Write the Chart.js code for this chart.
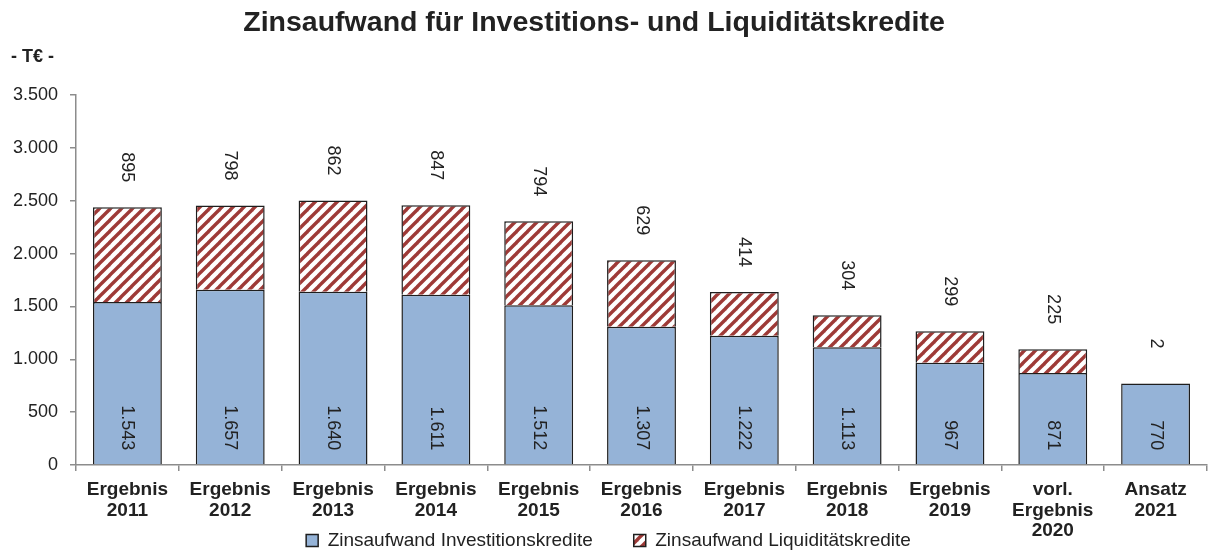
<!DOCTYPE html>
<html>
<head>
<meta charset="utf-8">
<script src="https://cdn.jsdelivr.net/npm/chart.js@4"></script>
<style>
html,body{margin:0;padding:0;background:#fff;}
#wrap{width:1209px;height:551px;}
</style>
</head>
<body>
<div id="wrap"><canvas id="c" width="1209" height="551"></canvas></div>
<script>
const categories = [
  ['Ergebnis','2011'],['Ergebnis','2012'],['Ergebnis','2013'],['Ergebnis','2014'],
  ['Ergebnis','2015'],['Ergebnis','2016'],['Ergebnis','2017'],['Ergebnis','2018'],
  ['Ergebnis','2019'],['vorl.','Ergebnis','2020'],['Ansatz','2021']
];
const investitionskredite = [1543,1657,1640,1611,1512,1307,1222,1113,967,871,770];
const liquiditaetskredite = [895,798,862,847,794,629,414,304,299,225,2];
const seriesNames = ['Zinsaufwand Investitionskredite','Zinsaufwand Liquiditätskredite'];
const yTicks = [0,500,1000,1500,2000,2500,3000,3500];
const titleText = 'Zinsaufwand für Investitions- und Liquiditätskredite';
const unitText = '- T€ -';

function fmt(v){ return String(v).replace(/\B(?=(\d{3})+(?!\d))/g,'.'); }

const FONT = '"Liberation Sans", Arial, sans-serif';
const TXT = '#222222';

// hatch pattern
const pc = document.createElement('canvas');
pc.width = 11; pc.height = 11;
const pctx = pc.getContext('2d');
pctx.fillStyle = '#ffffff'; pctx.fillRect(0,0,11,11);
pctx.strokeStyle = '#9e3a37'; pctx.lineWidth = 3.4;
for (const o of [-11,0,11]) { pctx.beginPath(); pctx.moveTo(o-1,12); pctx.lineTo(o+12,-1); pctx.stroke(); }
const hatch = pctx.createPattern(pc,'repeat');

const labelPlugin = {
  id: 'valueLabels',
  afterDatasetsDraw(chart){
    const ctx = chart.ctx;
    const m0 = chart.getDatasetMeta(0), m1 = chart.getDatasetMeta(1);
    ctx.save();
    ctx.fillStyle = TXT;
    ctx.font = '18px ' + FONT;
    ctx.textBaseline = 'middle';
    m0.data.forEach((bar,i)=>{
      ctx.save();
      ctx.translate(bar.x, bar.base - 14);
      ctx.rotate(Math.PI/2);
      ctx.textAlign = 'right';
      ctx.fillText(fmt(investitionskredite[i]),0,0);
      ctx.restore();
      const top = m1.data[i].y;
      ctx.save();
      ctx.translate(bar.x, top - 40);
      ctx.rotate(Math.PI/2);
      ctx.textAlign = 'center';
      ctx.fillText(fmt(liquiditaetskredite[i]),0,0);
      ctx.restore();
    });
    // title
    ctx.font = 'bold 28.5px ' + FONT;
    ctx.textAlign = 'center';
    ctx.fillText(titleText, 594, 23);
    // unit label
    ctx.font = 'bold 18px ' + FONT;
    ctx.textAlign = 'left';
    ctx.fillText(unitText, 11, 57);
    ctx.restore();
  }
};

new Chart(document.getElementById('c'), {
  type: 'bar',
  data: {
    labels: categories,
    datasets: [
      { label: seriesNames[0], data: investitionskredite, backgroundColor: '#95b3d7',
        borderColor: '#1e1e1e', borderWidth: 1.5 },
      { label: seriesNames[1], data: liquiditaetskredite, backgroundColor: hatch,
        borderColor: '#1e1e1e', borderWidth: 1.5 }
    ]
  },
  options: {
    responsive: false,
    animation: false,
    devicePixelRatio: 1,
    layout: { padding: { left: 10, right: 2, top: 95, bottom: -9 } },
    datasets: { bar: { barPercentage: 0.67, categoryPercentage: 1.0 } },
    scales: {
      x: {
        stacked: true,
        border: { display: true, color: '#8c8c8c', width: 1.5 },
        grid: { display: true, drawOnChartArea: false, drawTicks: true, tickLength: 6, color: '#8c8c8c', lineWidth: 1.5, offset: true },
        ticks: { color: TXT, font: { family: FONT, size: 19, weight: 'bold', lineHeight: 1.1 }, padding: 8, maxRotation: 0, autoSkip: false },
        afterFit(s){ s.height = 25; s._computeLabelArea = () => null; }
      },
      y: {
        stacked: true,
        min: 0, max: 3500,
        afterBuildTicks(s){ s.ticks = yTicks.map(v=>({value:v})); },
        border: { display: true, color: '#8c8c8c', width: 1.5 },
        grid: { display: true, drawOnChartArea: false, drawTicks: true, tickLength: 6, color: '#8c8c8c', lineWidth: 1.5 },
        ticks: { color: TXT, font: { family: FONT, size: 18 }, padding: 12, callback: v => fmt(v) },
        afterFit(s){ s.width = 66; }
      }
    },
    plugins: {
      title: { display: false },
      legend: { position: 'bottom', labels: { color: TXT, font: { family: FONT, size: 19 }, boxWidth: 12, boxHeight: 12, padding: 41 } },
      tooltip: { enabled: false }
    }
  },
  plugins: [labelPlugin]
});
</script>
</body>
</html>
